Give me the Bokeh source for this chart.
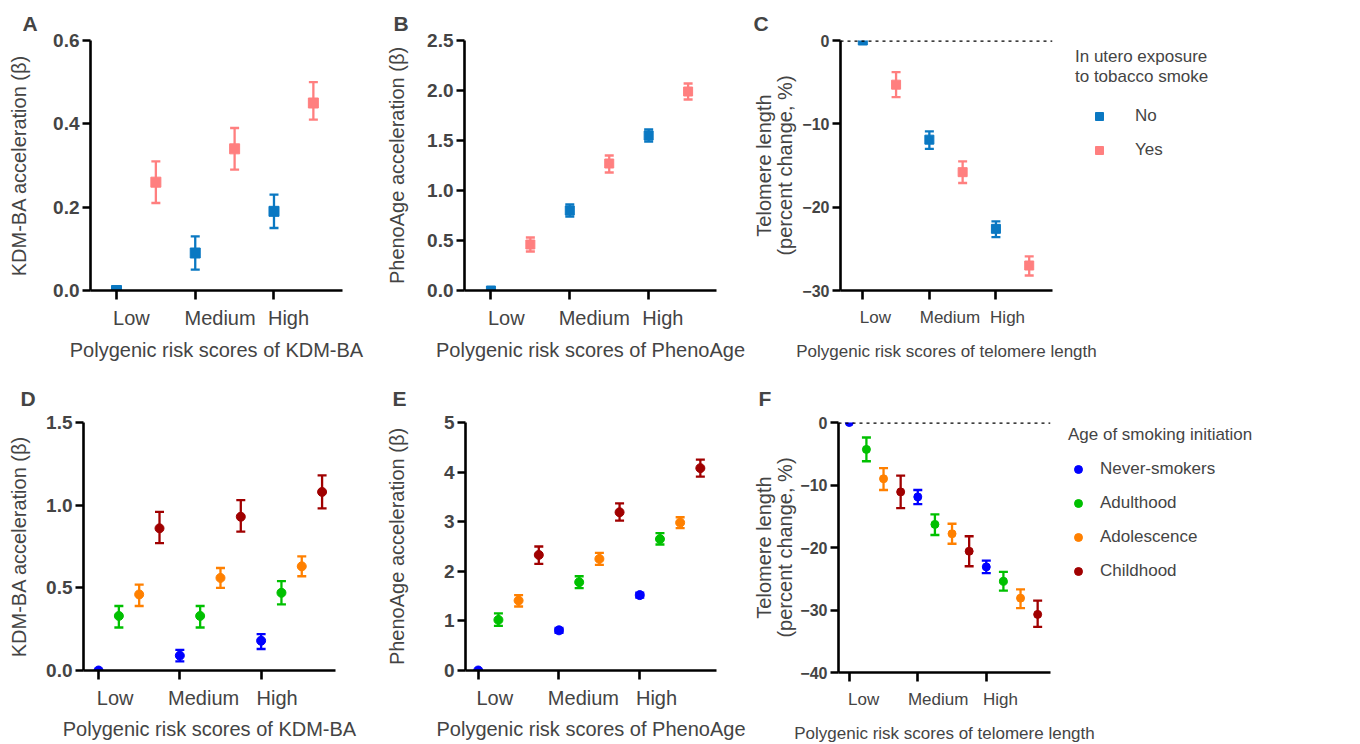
from bokeh.plotting import figure
from bokeh.layouts import row, column
from bokeh.models import (ColumnDataSource, Whisker, TeeHead, FixedTicker,
                          Range1d, Span, Legend, LegendItem)
from bokeh.embed import file_html
from bokeh.resources import INLINE

FONT = "Liberation Sans"

groups = ["Low", "Medium", "High"]

# ---- Panel A: KDM-BA, in utero exposure ----
a_no = [0.0, 0.09, 0.19]
a_no_lo = [0.0, 0.05, 0.15]
a_no_hi = [0.0, 0.13, 0.23]
a_yes = [0.26, 0.34, 0.45]
a_yes_lo = [0.21, 0.29, 0.41]
a_yes_hi = [0.31, 0.39, 0.50]

# ---- Panel B: PhenoAge, in utero exposure ----
b_no = [0.0, 0.80, 1.55]
b_no_lo = [0.0, 0.74, 1.49]
b_no_hi = [0.0, 0.86, 1.61]
b_yes = [0.46, 1.27, 1.99]
b_yes_lo = [0.39, 1.18, 1.91]
b_yes_hi = [0.53, 1.35, 2.07]

# ---- Panel C: telomere length, in utero exposure ----
c_no = [0.0, -11.9, -22.6]
c_no_lo = [0.0, -13.0, -23.6]
c_no_hi = [0.0, -10.9, -21.7]
c_yes = [-5.3, -15.8, -27.0]
c_yes_lo = [-6.8, -17.1, -28.2]
c_yes_hi = [-3.8, -14.5, -25.9]

# ---- Panel D: KDM-BA, age of smoking initiation ----
d_never = [0.0, 0.09, 0.18]
d_never_lo = [0.0, 0.055, 0.13]
d_never_hi = [0.0, 0.125, 0.22]
d_adult = [0.33, 0.33, 0.47]
d_adult_lo = [0.26, 0.26, 0.40]
d_adult_hi = [0.39, 0.39, 0.54]
d_adol = [0.46, 0.56, 0.63]
d_adol_lo = [0.39, 0.50, 0.57]
d_adol_hi = [0.52, 0.62, 0.69]
d_child = [0.86, 0.93, 1.08]
d_child_lo = [0.77, 0.84, 0.98]
d_child_hi = [0.96, 1.03, 1.18]

# ---- Panel E: PhenoAge, age of smoking initiation ----
e_never = [0.0, 0.81, 1.52]
e_never_lo = [0.0, 0.76, 1.47]
e_never_hi = [0.0, 0.86, 1.57]
e_adult = [1.02, 1.78, 2.65]
e_adult_lo = [0.90, 1.66, 2.54]
e_adult_hi = [1.15, 1.90, 2.77]
e_adol = [1.41, 2.25, 2.98]
e_adol_lo = [1.29, 2.13, 2.87]
e_adol_hi = [1.52, 2.37, 3.09]
e_child = [2.33, 3.19, 4.08]
e_child_lo = [2.15, 3.02, 3.91]
e_child_hi = [2.50, 3.37, 4.25]

# ---- Panel F: telomere length, age of smoking initiation ----
f_never = [0.0, -11.9, -23.1]
f_never_lo = [0.0, -13.05, -24.1]
f_never_hi = [0.0, -10.8, -22.1]
f_adult = [-4.3, -16.3, -25.4]
f_adult_lo = [-6.2, -18.0, -26.9]
f_adult_hi = [-2.4, -14.7, -23.9]
f_adol = [-9.0, -17.8, -28.1]
f_adol_lo = [-10.8, -19.4, -29.7]
f_adol_hi = [-7.3, -16.2, -26.7]
f_child = [-11.1, -20.6, -30.7]
f_child_lo = [-13.7, -23.0, -32.7]
f_child_hi = [-8.5, -18.2, -28.5]

utero_names = ["No", "Yes"]
utero_colors = ["#0a78c2", "#ff7f7f"]
age_names = ["Never-smokers", "Adulthood", "Adolescence", "Childhood"]
age_colors = ["#0000ff", "#00c000", "#ff8000", "#a00000"]


def make_panel(size, borders, xr, yr, yticks, ylabels, ytitle, ystand,
               xtitle, nser, label_pos, series, marker, msize, letter, letter_off,
               letter_stand=12, zero_line=False, title_stand=7, lw=2.3, xfs="20px",
               yfs="19px", xlab_stand=7, fixed_frame=False):
    bl, br, bt, bb = borders
    if fixed_frame:
        kw = dict(frame_width=size[0], frame_height=size[1])
    else:
        kw = dict(width=size[0], height=size[1])
    p = figure(x_range=Range1d(*xr), y_range=Range1d(*yr),
               output_backend="svg", toolbar_location=None,
               min_border_left=bl, min_border_right=br, min_border_top=bt,
               min_border_bottom=bb, **kw)
    p.outline_line_color = None
    p.grid.visible = False

    # panel letter
    p.title.text = letter
    p.title.align = "left"
    p.title.offset = letter_off
    p.title.text_font = FONT
    p.title.text_font_size = "21px"
    p.title.text_font_style = "bold"
    p.title.standoff = letter_stand

    # y axis
    ya = p.yaxis[0]
    ya.ticker = FixedTicker(ticks=yticks)
    ya.major_label_overrides = {t: l for t, l in zip(yticks, ylabels)}
    ya.major_label_text_font = FONT
    ya.major_label_text_font_size = yfs
    ya.major_label_text_font_style = "bold"
    ya.major_label_standoff = 3
    ya.axis_line_width = 2.6
    ya.major_tick_line_width = 2.6
    ya.major_tick_out = 8
    ya.major_tick_in = 0
    ya.minor_tick_line_color = None
    ya.axis_label = ytitle
    ya.axis_label_text_font = FONT
    ya.axis_label_text_font_size = "20px"
    ya.axis_label_text_font_style = "normal"
    ya.axis_label_text_line_height = 0.95
    ya.axis_label_standoff = ystand

    # x axis: group labels as major ticks (no tick mark), tick marks as minor ticks
    group_pos = [g * nser for g in range(len(groups))]
    xa = p.xaxis[0]
    xa.ticker = FixedTicker(ticks=label_pos, minor_ticks=group_pos)
    xa.major_label_overrides = {t: g for t, g in zip(label_pos, groups)}
    xa.major_tick_line_color = None
    xa.major_tick_out = 9
    xa.major_tick_in = 0
    xa.minor_tick_line_color = "black"
    xa.minor_tick_line_width = 2.6
    xa.minor_tick_out = 9
    xa.minor_tick_in = 0
    xa.axis_line_width = 2.6
    xa.major_label_standoff = xlab_stand
    xa.major_label_text_font = FONT
    xa.major_label_text_font_size = xfs
    xa.axis_label = xtitle
    xa.axis_label_text_font = FONT
    xa.axis_label_text_font_size = xfs
    xa.axis_label_text_font_style = "normal"
    xa.axis_label_standoff = title_stand

    if zero_line:
        p.add_layout(Span(location=0, dimension="width", line_color="black",
                          line_width=2.6, line_dash="3 4"))

    renderers = []
    for si, (vals, lo, hi, color) in enumerate(series):
        xs = [g * nser + si for g in range(len(groups))]
        wx = [x for x, l, h in zip(xs, lo, hi) if h != l]
        wl = [l for l, h in zip(lo, hi) if h != l]
        wh = [h for l, h in zip(lo, hi) if h != l]
        wsrc = ColumnDataSource(dict(x=wx, lower=wl, upper=wh))
        w = Whisker(source=wsrc, base="x", lower="lower", upper="upper", dimension="height",
                    line_color=color, line_width=lw, level="underlay",
                    upper_head=TeeHead(size=9, line_color=color, line_width=lw),
                    lower_head=TeeHead(size=9, line_color=color, line_width=lw))
        p.add_layout(w)
        src = ColumnDataSource(dict(x=xs, y=vals))
        r = p.scatter("x", "y", source=src, marker=marker, size=msize,
                      fill_color=color, line_color=color)
        renderers.append(r)
    return p, renderers


def add_legend(p, renderers, names, title, loc, glyph_w, standoff, title_gap):
    items = [LegendItem(label=n, renderers=[r]) for n, r in zip(names, renderers)]
    lg = Legend(items=items, location=loc, padding=0, margin=0, glyph_width=glyph_w,
                glyph_height=20, spacing=14, label_standoff=standoff,
                label_text_font=FONT, label_text_font_size="17px",
                title=title, title_text_font=FONT, title_text_font_size="17px",
                title_text_font_style="normal", title_text_line_height=1.35,
                title_standoff=title_gap,
                border_line_color=None, background_fill_alpha=0)
    p.add_layout(lg, "right")


pa, _ = make_panel((370, 372), (90, 28, 40, 82), (-0.66, 5.74), (0, 0.6),
                   [0, 0.2, 0.4, 0.6], ["0.0", "0.2", "0.4", "0.6"],
                   "KDM-BA acceleration (β)", 20, "Polygenic risk scores of KDM-BA", 2,
                   [0.38, 2.63, 4.37],
                   [(a_no, a_no_lo, a_no_hi, utero_colors[0]),
                    (a_yes, a_yes_lo, a_yes_hi, utero_colors[1])],
                   "square", 10, "A", -68)

pb, _ = make_panel((380, 372), (94, 34, 40, 82), (-0.67, 5.72), (0, 2.5),
                   [0, 0.5, 1.0, 1.5, 2.0, 2.5], ["0.0", "0.5", "1.0", "1.5", "2.0", "2.5"],
                   "PhenoAge acceleration (β)", 16, "Polygenic risk scores of PhenoAge", 2,
                   [0.39, 2.62, 4.36],
                   [(b_no, b_no_lo, b_no_hi, utero_colors[0]),
                    (b_yes, b_yes_lo, b_yes_hi, utero_colors[1])],
                   "square", 9, "B", -71)

pc, rc = make_panel((212, 250), (90, 0, 40, 82), (-0.67, 5.7), (-30, 0),
                    [-30, -20, -10, 0], ["\u221230", "\u221220", "\u221210", "0"],
                    "Telomere length\n(percent change, %)", 3,
                    "Polygenic risk scores of telomere length", 2,
                    [0.38, 2.62, 4.35],
                    [(c_no, c_no_lo, c_no_hi, utero_colors[0]),
                     (c_yes, c_yes_lo, c_yes_hi, utero_colors[1])],
                    "square", 9, "C", -87, zero_line=True, xfs="17px", yfs="16px",
                    xlab_stand=8, title_stand=12, fixed_frame=True)
add_legend(pc, rc, utero_names, "In utero exposure\nto tobacco smoke", (23, 130), 48, 12, 19)

pd_, _ = make_panel((370, 371), (83, 35, 50, 71), (-0.74, 11.66), (0, 1.5),
                    [0, 0.5, 1.0, 1.5], ["0.0", "0.5", "1.0", "1.5"],
                    "KDM-BA acceleration (β)", 13, "Polygenic risk scores of KDM-BA", 4,
                    [0.82, 5.17, 8.79],
                    [(d_never, d_never_lo, d_never_hi, age_colors[0]),
                     (d_adult, d_adult_lo, d_adult_hi, age_colors[1]),
                     (d_adol, d_adol_lo, d_adol_hi, age_colors[2]),
                     (d_child, d_child_lo, d_child_hi, age_colors[3])],
                    "circle", 9, "D", -63, letter_stand=25, title_stand=6)

pe, _ = make_panel((380, 371), (95, 34, 50, 71), (-0.63, 11.8), (0, 5),
                   [0, 1, 2, 3, 4, 5], ["0", "1", "2", "3", "4", "5"],
                   "PhenoAge acceleration (β)", 33, "Polygenic risk scores of PhenoAge", 4,
                   [0.82, 5.21, 8.83],
                   [(e_never, e_never_lo, e_never_hi, age_colors[0]),
                    (e_adult, e_adult_lo, e_adult_hi, age_colors[1]),
                    (e_adol, e_adol_lo, e_adol_hi, age_colors[2]),
                    (e_child, e_child_lo, e_child_hi, age_colors[3])],
                   "circle", 9, "E", -73, letter_stand=25, title_stand=6)

pf, rf = make_panel((212, 250), (88, 0, 50, 71), (-0.63, 11.75), (-40, 0),
                    [-40, -30, -20, -10, 0], ["\u221240", "\u221230", "\u221220", "\u221210", "0"],
                    "Telomere length\n(percent change, %)", 1,
                    "Polygenic risk scores of telomere length", 4,
                    [0.84, 5.19, 8.83],
                    [(f_never, f_never_lo, f_never_hi, age_colors[0]),
                     (f_adult, f_adult_lo, f_adult_hi, age_colors[1]),
                     (f_adol, f_adol_lo, f_adol_hi, age_colors[2]),
                     (f_child, f_child_lo, f_child_hi, age_colors[3])],
                    "circle", 8, "F", -80, letter_stand=25, zero_line=True, xfs="17px",
                    yfs="16px", xlab_stand=8, title_stand=12, fixed_frame=True)
add_legend(pf, rf, age_names, "Age of smoking initiation", (18, 91), 20, 12, 14)

layout = column(row(pa, pb, pc), row(pd_, pe, pf))
open("out.html", "w").write(file_html(layout, INLINE))
